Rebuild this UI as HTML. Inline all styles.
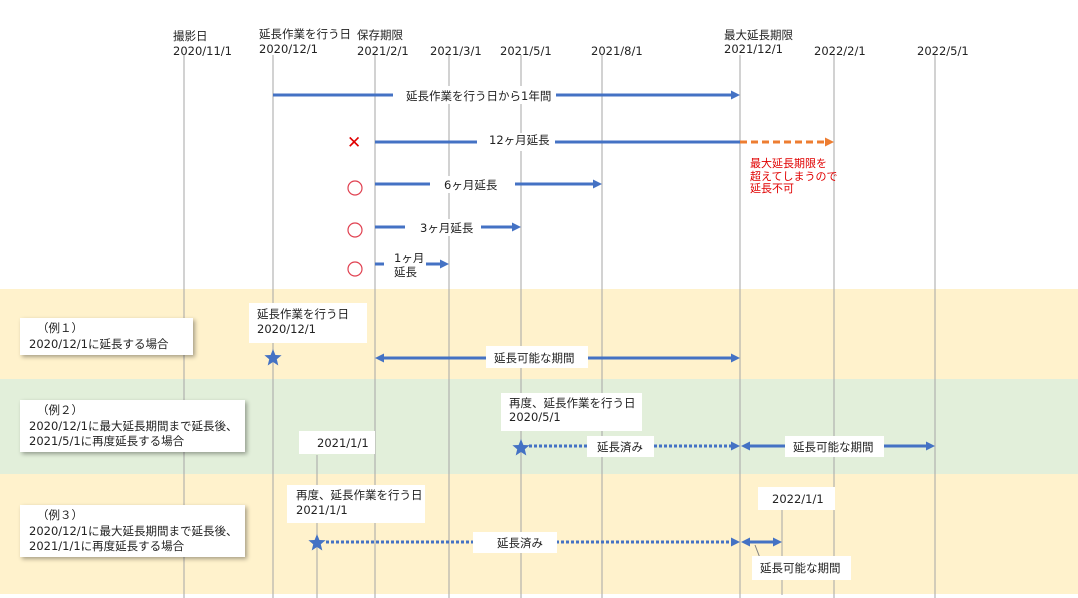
<!DOCTYPE html>
<html><head><meta charset="utf-8"><style>
html,body{margin:0;padding:0;background:#fff;}
svg{display:block;}
text{font-family:"DejaVu Sans","Noto Sans CJK JP",sans-serif;font-size:11.5px;fill:#222;}
.vl{stroke:#a6a6a6;stroke-width:1;}
.bl{stroke:#4472c4;stroke-width:3;fill:none;}
.dot{stroke:#4472c4;stroke-width:3;stroke-dasharray:3 2;fill:none;}
.ah{fill:#4472c4;}
.box{fill:#fff;}
.sh{fill:#fff;filter:drop-shadow(2px 2px 2px rgba(0,0,0,0.35));}
</style></head><body>
<svg width="1078" height="598" viewBox="0 0 1078 598" xmlns="http://www.w3.org/2000/svg">
<defs>
<polygon id="st" points="0,-9 2.4,-3 8.6,-2.8 3.8,1.2 5.3,7.5 0,4 -5.3,7.5 -3.8,1.2 -8.6,-2.8 -2.4,-3" fill="#4472c4"/>
</defs>
<rect x="0" y="289" width="1078" height="90" fill="#fff2cc"/>
<rect x="0" y="379" width="1078" height="95" fill="#e2efda"/>
<rect x="0" y="474" width="1078" height="120" fill="#fff2cc"/>

<g class="vl">
<line x1="184" y1="55" x2="184" y2="598"/>
<line x1="273" y1="55" x2="273" y2="598"/>
<line x1="375" y1="55" x2="375" y2="598"/>
<line x1="449" y1="55" x2="449" y2="598"/>
<line x1="521" y1="55" x2="521" y2="598"/>
<line x1="602" y1="55" x2="602" y2="598"/>
<line x1="740" y1="55" x2="740" y2="598"/>
<line x1="834" y1="55" x2="834" y2="598"/>
<line x1="935" y1="55" x2="935" y2="598"/>
<line x1="317" y1="455" x2="317" y2="598"/>
<line x1="782" y1="510" x2="782" y2="595"/>
</g>

<text x="173" y="40">撮影日</text><text x="173" y="55">2020/11/1</text>
<text x="259" y="38">延長作業を行う日</text><text x="259" y="53">2020/12/1</text>
<text x="357" y="39">保存期限</text><text x="357" y="55">2021/2/1</text>
<text x="430" y="55">2021/3/1</text>
<text x="500" y="55">2021/5/1</text>
<text x="591" y="55">2021/8/1</text>
<text x="724" y="39">最大延長期限</text><text x="724" y="53">2021/12/1</text>
<text x="814" y="55">2022/2/1</text>
<text x="917" y="55">2022/5/1</text>

<line class="bl" x1="273" y1="95" x2="732" y2="95"/>
<polygon class="ah" points="740,95 731,90.5 731,99.5"/>
<rect class="box" x="393" y="86" width="163" height="18"/>
<text x="406" y="100">延長作業を行う日から1年間</text>

<text x="347" y="148" style="fill:#e00000;font-size:17px;font-weight:bold">✕</text>
<line class="bl" x1="375" y1="142" x2="740" y2="142"/>
<line x1="740" y1="142" x2="826" y2="142" stroke="#ed7d31" stroke-width="3" stroke-dasharray="7 4"/>
<polygon points="834,142 825,137.5 825,146.5" fill="#ed7d31"/>
<rect class="box" x="477" y="133" width="78" height="18"/>
<text x="489" y="144">12ヶ月延長</text>
<text x="750" y="167" style="fill:#e00000;font-size:11px">最大延長期限を</text>
<text x="750" y="180" style="fill:#e00000;font-size:11px">超えてしまうので</text>
<text x="750" y="192" style="fill:#e00000;font-size:11px">延長不可</text>

<g fill="none" stroke="#e04050" stroke-width="1.2">
<circle cx="355" cy="188" r="7"/>
<circle cx="355" cy="230" r="7"/>
<circle cx="355" cy="269" r="7"/>
</g>

<line class="bl" x1="375" y1="184" x2="594" y2="184"/>
<polygon class="ah" points="602,184 593,179.5 593,188.5"/>
<rect class="box" x="430" y="176" width="85" height="17"/>
<text x="444" y="189">6ヶ月延長</text>

<line class="bl" x1="375" y1="227" x2="513" y2="227"/>
<polygon class="ah" points="521,227 512,222.5 512,231.5"/>
<rect class="box" x="405" y="219" width="76" height="17"/>
<text x="420" y="232">3ヶ月延長</text>

<line class="bl" x1="375" y1="264" x2="441" y2="264"/>
<polygon class="ah" points="449,264 440,259.5 440,268.5"/>
<rect class="box" x="384" y="251" width="42" height="30"/>
<text x="394" y="262">1ヶ月</text>
<text x="394" y="276">延長</text>

<rect class="sh" x="20" y="318" width="173" height="37"/>
<text x="37" y="332">（例１）</text>
<text x="29" y="348">2020/12/1に延長する場合</text>
<rect class="box" x="249" y="303" width="118" height="40"/>
<text x="257" y="318">延長作業を行う日</text>
<text x="257" y="333">2020/12/1</text>
<use href="#st" x="273" y="358"/>
<line class="bl" x1="383" y1="358" x2="732" y2="358"/>
<polygon class="ah" points="375,358 384,353.5 384,362.5"/>
<polygon class="ah" points="740,358 731,353.5 731,362.5"/>
<rect class="box" x="486" y="346" width="102" height="22"/>
<text x="494" y="362">延長可能な期間</text>

<rect class="sh" x="20" y="400" width="225" height="52"/>
<text x="37" y="414">（例２）</text>
<text x="29" y="430">2020/12/1に最大延長期間まで延長後、</text>
<text x="29" y="445">2021/5/1に再度延長する場合</text>
<rect class="box" x="299" y="431" width="76" height="23"/>
<text x="317" y="447">2021/1/1</text>
<rect class="box" x="501" y="393" width="141" height="38"/>
<text x="509" y="407">再度、延長作業を行う日</text>
<text x="509" y="421">2020/5/1</text>
<use href="#st" x="521" y="448"/>
<line class="dot" x1="529" y1="446" x2="732" y2="446"/>
<polygon class="ah" points="740,446 731,441.5 731,450.5"/>
<rect class="box" x="587" y="436" width="67" height="21"/>
<text x="597" y="451">延長済み</text>
<line class="bl" x1="749" y1="446" x2="927" y2="446"/>
<polygon class="ah" points="741,446 750,441.5 750,450.5"/>
<polygon class="ah" points="935,446 926,441.5 926,450.5"/>
<rect class="box" x="785" y="436" width="99" height="21"/>
<text x="793" y="451">延長可能な期間</text>

<rect class="sh" x="20" y="505" width="225" height="52"/>
<text x="37" y="519">（例３）</text>
<text x="29" y="535">2020/12/1に最大延長期間まで延長後、</text>
<text x="29" y="550">2021/1/1に再度延長する場合</text>
<rect class="box" x="287" y="485" width="138" height="38"/>
<text x="296" y="499">再度、延長作業を行う日</text>
<text x="296" y="514">2021/1/1</text>
<use href="#st" x="317" y="543"/>
<line class="dot" x1="326" y1="542" x2="732" y2="542"/>
<polygon class="ah" points="740,542 731,537.5 731,546.5"/>
<rect class="box" x="473" y="532" width="84" height="21"/>
<text x="497" y="547">延長済み</text>
<line class="bl" x1="749" y1="542" x2="774" y2="542"/>
<polygon class="ah" points="741,542 750,537.5 750,546.5"/>
<polygon class="ah" points="782,542 773,537.5 773,546.5"/>
<rect class="box" x="758" y="487" width="77" height="23"/>
<text x="772" y="503">2022/1/1</text>
<line x1="755" y1="545" x2="760" y2="558" stroke="#7f7f7f" stroke-width="1"/>
<rect class="box" x="752" y="556" width="99" height="24"/>
<text x="760" y="572">延長可能な期間</text>
</svg>
</body></html>
